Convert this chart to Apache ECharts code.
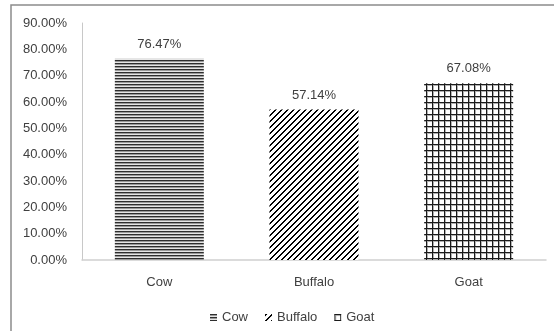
<!DOCTYPE html>
<html>
<head>
<meta charset="utf-8">
<script src="https://cdn.jsdelivr.net/npm/echarts@6/dist/echarts.min.js"></script>
<style>
html, body { margin: 0; padding: 0; background: #fff; }
#chart { width: 554px; height: 331px; }
</style>
</head>
<body>
<div id="chart"></div>
<script>
var categories = ['Cow', 'Buffalo', 'Goat'];
var values = [76.47, 57.14, 67.08];
var yTicks = { min: 0, max: 90, interval: 10 };

// canvas patterns like excel fills
function makePattern(kind) {
    var c = document.createElement('canvas');
    var ctx;
    if (kind == 'hline') {
        c.width = 4; c.height = 3;
        ctx = c.getContext('2d');
        ctx.fillStyle = '#e6e6e6'; ctx.fillRect(0, 0, 4, 3);
        ctx.fillStyle = '#2e2e2e'; ctx.fillRect(0, 0, 4, 1);
        ctx.fillStyle = '#9a9a9a'; ctx.fillRect(0, 1, 4, 1);
    } else if (kind == 'diag') {
        c.width = 6; c.height = 6;
        ctx = c.getContext('2d');
        ctx.fillStyle = '#fff'; ctx.fillRect(0, 0, 6, 6);
        ctx.fillStyle = '#000';
        for (var i = 0; i < 6; i++) {
            ctx.fillRect((6 - i) % 6, i, 2, 1);
            ctx.fillRect((6 - i + 1) % 6, i, 1, 1);
        }
    } else {
        c.width = 6; c.height = 6;
        ctx = c.getContext('2d');
        ctx.fillStyle = '#fff'; ctx.fillRect(0, 0, 6, 6);
        ctx.fillStyle = '#b0b0b0';
        ctx.fillRect(1, 0, 1, 6); ctx.fillRect(0, 1, 6, 1);
        ctx.fillStyle = '#1a1a1a';
        ctx.fillRect(0, 0, 1, 6); ctx.fillRect(0, 0, 6, 1);
    }
    return { image: c, repeat: 'repeat' };
}
var fills = [makePattern('hline'), makePattern('diag'), makePattern('grid')];

var series = [];
for (var i = 0; i < categories.length; i++) {
    var d = [];
    for (var j = 0; j < values.length; j++) { d.push(j == i ? values[j] : '-'); }
    series.push({
        name: categories[i], type: 'bar', barWidth: 89, barGap: '-100%', data: d,
        itemStyle: { color: fills[i] },
        label: {
            show: true, position: 'top', distance: 8, color: '#404040', fontSize: 13,
            fontFamily: 'Liberation Sans',
            formatter: function (p) { return p.value.toFixed(2) + '%'; }
        }
    });
}

var chart = echarts.init(document.getElementById('chart'));
chart.setOption({
    animation: false,
    textStyle: { fontFamily: 'Liberation Sans' },
    graphic: [{
        type: 'rect', shape: { x: 11, y: 5, width: 560, height: 340 },
        style: { fill: 'none', stroke: '#8c8c8c', lineWidth: 1.5 }, silent: true
    }],
    grid: { left: 82, right: 8, top: 23, bottom: 71 },
    legend: {
        top: 306, left: 205, icon: 'rect', itemWidth: 7, itemHeight: 7, itemGap: 17,
        textStyle: { color: '#404040', fontSize: 13, fontFamily: 'Liberation Sans' },
        data: categories
    },
    xAxis: {
        type: 'category', data: categories,
        axisLine: { lineStyle: { color: '#d0d0d0', width: 1.5 } },
        axisTick: { show: false },
        axisLabel: { color: '#404040', fontSize: 13, margin: 16 }
    },
    yAxis: {
        type: 'value', min: yTicks.min, max: yTicks.max, interval: yTicks.interval,
        axisLine: { show: true, lineStyle: { color: '#c8c8c8' } },
        axisTick: { show: false },
        splitLine: { show: false },
        axisLabel: {
            color: '#404040', fontSize: 13, margin: 15,
            formatter: function (v) { return v.toFixed(2) + '%'; }
        }
    },
    series: series
});
</script>
</body>
</html>
